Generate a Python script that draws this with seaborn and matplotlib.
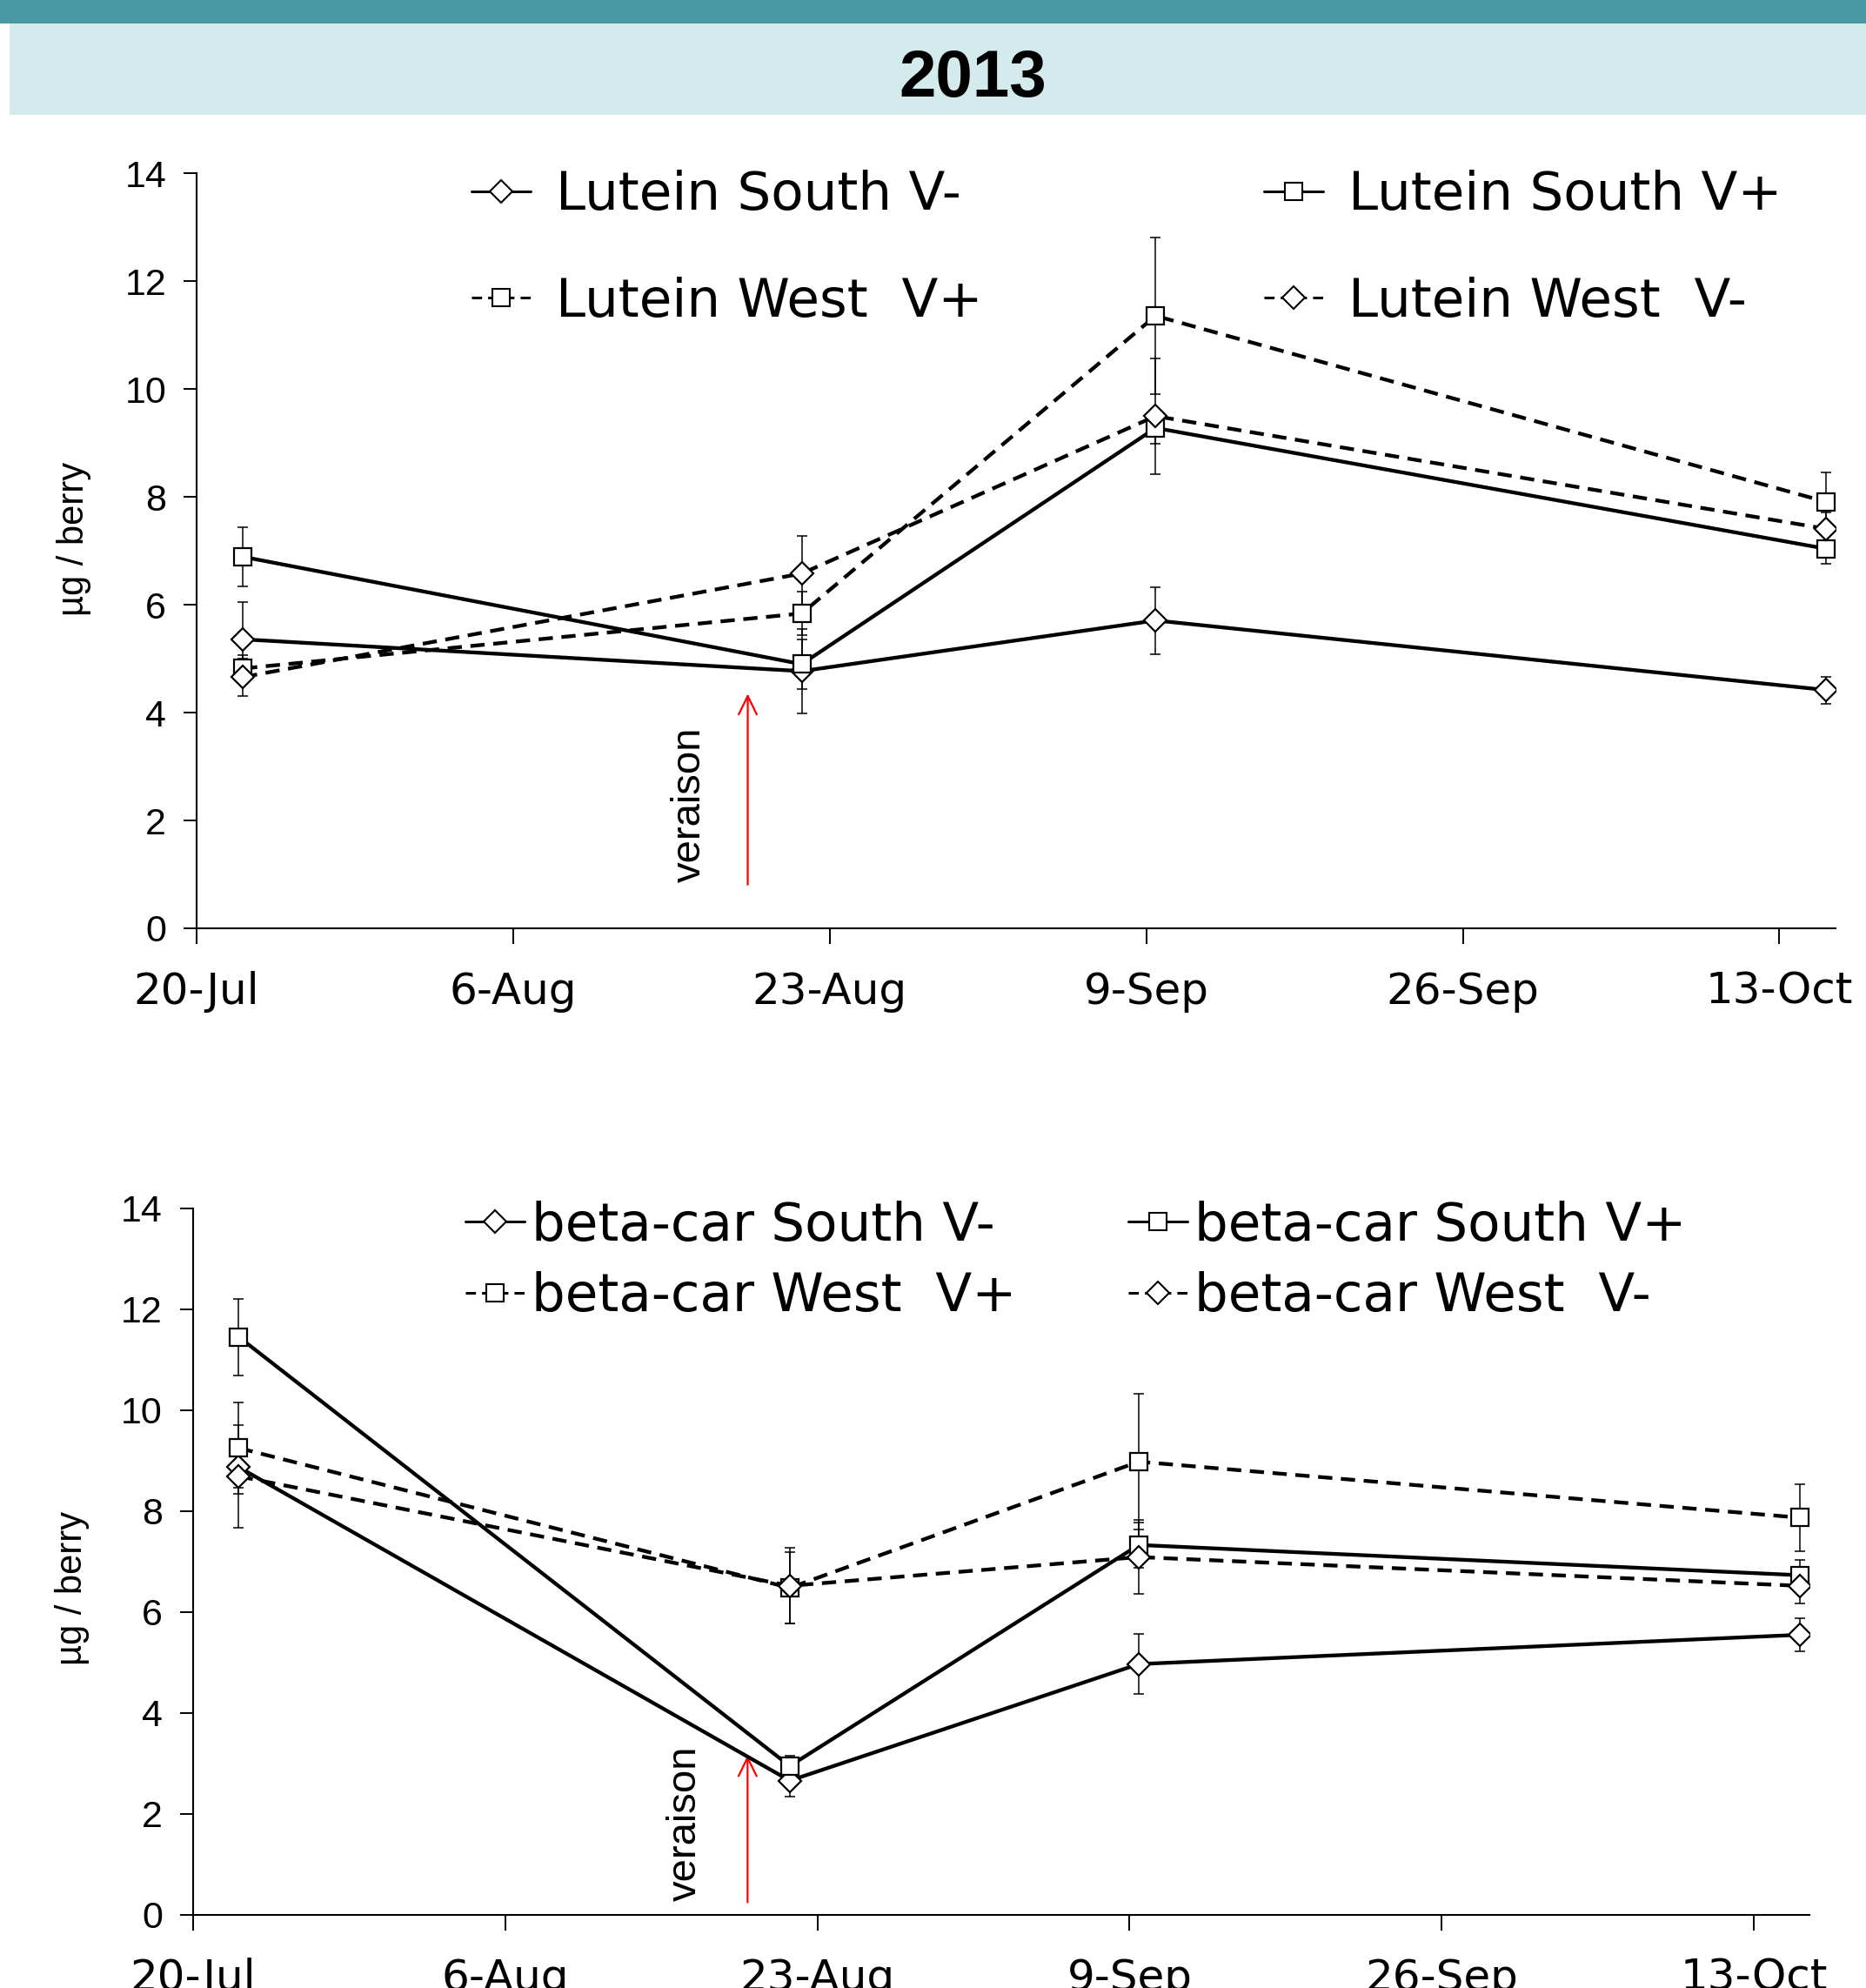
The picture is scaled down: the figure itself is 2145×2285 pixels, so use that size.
import matplotlib
matplotlib.use("Agg")
import matplotlib.pyplot as plt
from matplotlib.lines import Line2D
from matplotlib.patches import Rectangle
import seaborn as sns
import pandas as pd

sns.set_style("ticks")
plt.rcParams["font.family"] = ["DejaVu Sans"]
for k in ["text.color", "axes.labelcolor", "xtick.color", "ytick.color", "axes.edgecolor"]:
    plt.rcParams[k] = "black"

# ---------------- data ----------------
sample_days = [2.5, 32.5, 51.5, 87.5]          # days after 20-Jul
tick_days = [0, 17, 34, 51, 68, 85]
tick_labels = ["20-Jul", "6-Aug", "23-Aug", "9-Sep", "26-Sep", "13-Oct"]
y_ticks = [0, 2, 4, 6, 8, 10, 12, 14]

series_names = ["South V-", "South V+", "West V+", "West V-"]

lut_south_vm = [5.36, 4.77, 5.71, 4.42]
lut_south_vm_err = [0.69, 0.78, 0.62, 0.25]
lut_south_vp = [6.89, 4.90, 9.28, 7.04]
lut_south_vp_err = [0.55, 0.46, 0.30, 0.28]
lut_west_vp = [4.82, 5.84, 11.36, 7.91]
lut_west_vp_err = [0.25, 0.41, 1.45, 0.54]
lut_west_vm = [4.66, 6.58, 9.50, 7.41]
lut_west_vm_err = [0.35, 0.70, 1.07, 0.30]

bc_south_vm = [8.87, 2.66, 4.97, 5.55]
bc_south_vm_err = [0.40, 0.32, 0.59, 0.33]
bc_south_vp = [11.45, 2.95, 7.33, 6.73]
bc_south_vp_err = [0.76, 0.20, 0.45, 0.31]
bc_west_vp = [9.25, 6.48, 8.98, 7.87]
bc_west_vp_err = [0.91, 0.70, 1.34, 0.66]
bc_west_vm = [8.69, 6.52, 7.09, 6.52]
bc_west_vm_err = [1.02, 0.75, 0.73, 0.35]

lut_labels = ["Lutein South V-", "Lutein South V+", "Lutein West  V+", "Lutein West  V-"]
bc_labels = ["beta-car South V-", "beta-car South V+", "beta-car West  V+", "beta-car West  V-"]

title_text = "2013"
ylabel_text = "µg / berry"
veraison_text = "veraison"
veraison_day_top = 29.6
veraison_day_bot = 30.2


def build(vals, errs):
    rows = []
    for name, v, e in zip(series_names, vals, errs):
        for d, vv, ee in zip(sample_days, v, e):
            rows.append({"day": d, "value": vv, "err": ee, "series": name})
    return pd.DataFrame(rows)


df_lut = build([lut_south_vm, lut_south_vp, lut_west_vp, lut_west_vm],
               [lut_south_vm_err, lut_south_vp_err, lut_west_vp_err, lut_west_vm_err])
df_bc = build([bc_south_vm, bc_south_vp, bc_west_vp, bc_west_vm],
              [bc_south_vm_err, bc_south_vp_err, bc_west_vp_err, bc_west_vm_err])

# ---------------- styles ----------------
LW = 3.1
DASH = (0, (3.8, 2.3))
style = {
    "South V-": dict(marker="D", markersize=13, linestyle="-"),
    "South V+": dict(marker="s", markersize=15, linestyle="-"),
    "West V+": dict(marker="s", markersize=15, linestyle=DASH),
    "West V-": dict(marker="D", markersize=13, linestyle=DASH),
}

W, H = 2145, 2285
fig = plt.figure(figsize=(W / 100, H / 100), dpi=100)

# header bands
fig.patches.append(Rectangle((0, 1 - 27 / H), 1, 27 / H, transform=fig.transFigure,
                             facecolor="#4699A0", edgecolor="none", zorder=0))
fig.patches.append(Rectangle((11 / W, 1 - 132 / H), 1 - 11 / W, (132 - 27) / H,
                             transform=fig.transFigure, facecolor="#D4EBED",
                             edgecolor="none", zorder=0))
fig.text(1118 / W, 1 - 91 / H, title_text, ha="center", va="center",
         fontsize=55, fontweight="bold", family="Liberation Sans", color="black")


def draw_panel(ax, df, labels, leg_cols_x, leg_mid_y, labelspacing, handletextpad,
               ver_day, ver_y0, ver_y1, ver_text_day, ver_text_y, ylab_y):
    for name in series_names:
        sub = df[df["series"] == name]
        ax.errorbar(sub["day"], sub["value"], yerr=sub["err"], fmt="none",
                    ecolor="black", elinewidth=1.1, capsize=4.5, capthick=1.1, zorder=2)
    for i, name in enumerate(series_names):
        sub = df[df["series"] == name]
        st = style[name]
        sns.lineplot(data=sub, x="day", y="value", ax=ax, color="black",
                     linewidth=LW, linestyle=st["linestyle"], marker=st["marker"],
                     markersize=st["markersize"], markerfacecolor="white",
                     markeredgecolor="black", markeredgewidth=1.6,
                     errorbar=None, legend=False, zorder=3 + i)

    ax.set_xlim(0, 88)
    ax.set_ylim(0, 14)
    ax.set_xticks(tick_days)
    ax.set_xticklabels(tick_labels, fontsize=36, family="DejaVu Sans")
    ax.set_yticks(y_ticks)
    ax.set_yticklabels([str(v) for v in y_ticks], fontsize=31, family="Liberation Sans")
    ax.tick_params(axis="x", direction="out", length=13, width=1.4, pad=22, colors="black")
    ax.tick_params(axis="y", direction="out", length=11, width=1.4, pad=14, colors="black")
    for s in ["top", "right"]:
        ax.spines[s].set_visible(False)
    for s in ["left", "bottom"]:
        ax.spines[s].set_linewidth(1.5)
        ax.spines[s].set_color("black")
    ax.set_xlabel("")
    ax.set_ylabel(ylabel_text, fontsize=30, family="Liberation Sans", color="black")
    ax.yaxis.set_label_coords(-0.064, ylab_y)

    # veraison arrow
    ax.annotate("", xy=(ver_day, ver_y1), xytext=(ver_day, ver_y0),
                arrowprops=dict(arrowstyle="->,head_length=0.45,head_width=0.22",
                                color="red", lw=1.6, mutation_scale=34,
                                shrinkA=0, shrinkB=0), zorder=1)
    ax.text(ver_text_day, ver_text_y, veraison_text, rotation=90, ha="center",
            va="bottom", fontsize=34, family="Liberation Sans", color="black")

    # legend (two columns, placed independently)
    def handle(name):
        st = style[name]
        return Line2D([], [], color="black", linewidth=2.2, linestyle=st["linestyle"],
                      marker=st["marker"], markersize=st["markersize"],
                      markerfacecolor="white", markeredgecolor="black",
                      markeredgewidth=1.5)

    cols = [[0, 2], [1, 3]]
    ymid = 1 - leg_mid_y / H
    legs = []
    for cx, idx in zip(leg_cols_x, cols):
        leg = ax.legend([handle(series_names[i]) for i in idx], [labels[i] for i in idx],
                        loc="center left", bbox_to_anchor=(cx / W, ymid),
                        bbox_transform=fig.transFigure, frameon=False,
                        fontsize=44, handlelength=1.12, handletextpad=handletextpad,
                        labelspacing=labelspacing, borderpad=0, borderaxespad=0,
                        numpoints=1, labelcolor="black")
        legs.append(leg)
    ax.add_artist(legs[0])


ax1 = fig.add_axes([225.9 / W, 1 - 1067 / H, (2109.7 - 225.9) / W, (1067 - 199.4) / H])
ax2 = fig.add_axes([221.7 / W, 1 - 2201 / H, (2079.7 - 221.7) / W, (2201 - 1388.8) / H])

draw_panel(ax1, df_lut, lut_labels, leg_cols_x=[542, 1453], leg_mid_y=286,
           labelspacing=1.04, handletextpad=0.46,
           ver_day=veraison_day_top, ver_y0=0.81, ver_y1=4.35,
           ver_text_day=26.5, ver_text_y=0.86, ylab_y=0.516)
draw_panel(ax2, df_bc, bc_labels, leg_cols_x=[535, 1297], leg_mid_y=1450,
           labelspacing=0.37, handletextpad=0.12,
           ver_day=veraison_day_bot, ver_y0=0.25, ver_y1=3.16,
           ver_text_day=26.8, ver_text_y=0.28, ylab_y=0.462)

fig.savefig("out.png", dpi=100)
